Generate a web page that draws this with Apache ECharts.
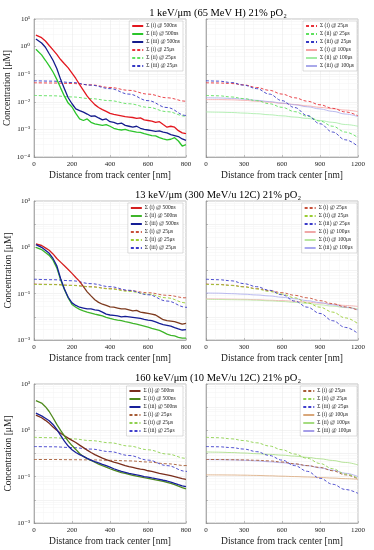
<!DOCTYPE html>
<html><head><meta charset="utf-8">
<script src="https://cdn.jsdelivr.net/npm/echarts@6/dist/echarts.min.js"></script>
<style>html,body{margin:0;padding:0;background:#fff}#c{width:374px;height:550px}</style>
</head><body><div id="c"></div>
<script>
// ---------- data ----------
const xSolid = [10,20,40,60,80,100,120,140,160,180,200,220,240,260,280,300,320,340,360,380,400,420,440,460,480,500,520,540,560,580,600,620,640,660,680,700,720,740,760,780,800];
const xSmooth = [0,100,200,300,400,500,600,700,800,900,1000,1100,1200];

const rowTitles = ['1 keV/μm (65 MeV H) 21% pO₂','13 keV/μm (300 MeV/u 12C) 21% pO₂','160 keV/μm (10 MeV/u 12C) 21% pO₂'];
const namesSolid = ['Σ (i) @ 500ns','Σ (ii) @ 500ns','Σ (iii) @ 500ns'];
const names25 = ['Σ (i) @ 25μs','Σ (ii) @ 25μs','Σ (iii) @ 25μs'];
const names100 = ['Σ (i) @ 100μs','Σ (ii) @ 100μs','Σ (iii) @ 100μs'];
const xLeftTicks = [0,200,400,600,800];
const xRightTicks = [0,300,600,900,1200];

// Row 1: 1 keV/um
const r1_i500 = [2.6,2.45,2.1,1.6,1.1,0.76,0.52,0.34,0.24,0.17,0.11,0.07,0.042,0.026,0.016,0.011,0.0079,0.0062,0.0052,0.0045,0.0038,0.0035,0.0033,0.0031,0.0029,0.0028,0.0027,0.0025,0.0026,0.0022,0.0021,0.002,0.0018,0.0019,0.0015,0.0012,0.0013,0.0012,0.0009,0.00075,0.0007];
const r1_ii500 = [0.8,0.72,0.5,0.32,0.2,0.12,0.065,0.032,0.016,0.009,0.0065,0.0038,0.0024,0.0021,0.0024,0.0018,0.0016,0.0015,0.0014,0.0015,0.0013,0.0011,0.001,0.00095,0.001,0.0009,0.00085,0.0008,0.00078,0.0007,0.00065,0.0006,0.00058,0.0005,0.00045,0.00042,0.00044,0.0005,0.00038,0.00025,0.00028];
const r1_iii500 = [1.9,1.75,1.35,0.95,0.55,0.32,0.16,0.065,0.03,0.014,0.0085,0.0055,0.0048,0.0042,0.0036,0.003,0.0031,0.0026,0.0022,0.0024,0.0019,0.0018,0.0016,0.0017,0.0014,0.0013,0.0012,0.0013,0.0011,0.001,0.00095,0.0009,0.00085,0.00088,0.0008,0.00075,0.00065,0.0006,0.00055,0.00045,0.0004];
const r1_i25 = [0.049,0.048,0.046,0.041,0.033,0.026,0.019,0.014,0.0105,0.0078,0.0058,0.0043,0.0031];
const r1_ii25 = [0.017,0.0165,0.015,0.013,0.011,0.0085,0.0063,0.0044,0.003,0.002,0.0013,0.0008,0.0005];
const r1_iii25 = [0.058,0.056,0.05,0.04,0.03,0.019,0.011,0.0062,0.0032,0.0016,0.0008,0.00042,0.00024];
const r1_i100 = [0.012,0.012,0.0118,0.0113,0.0105,0.0097,0.0088,0.008,0.0071,0.0063,0.0056,0.005,0.0044];
const r1_ii100 = [0.0043,0.0042,0.0041,0.0039,0.0037,0.0034,0.0031,0.0028,0.0025,0.0021,0.0018,0.0015,0.0013];
const r1_iii100 = [0.014,0.0138,0.0133,0.0125,0.0113,0.0102,0.009,0.0078,0.0066,0.0055,0.0045,0.0036,0.0029];

// Row 2: 13 keV/um
const r2_i500 = [14,13.5,12,9.5,7.5,5.2,3.3,2.3,1.6,1.1,0.75,0.5,0.34,0.2,0.12,0.08,0.055,0.042,0.035,0.031,0.027,0.026,0.024,0.022,0.022,0.02,0.018,0.019,0.016,0.015,0.014,0.013,0.012,0.0095,0.0075,0.0068,0.0065,0.0062,0.0055,0.0048,0.0052];
const r2_ii500 = [10,9.5,8,6,4.5,2.8,1.3,0.4,0.15,0.065,0.034,0.026,0.021,0.018,0.016,0.0145,0.013,0.012,0.011,0.0095,0.0085,0.0078,0.0072,0.0068,0.0062,0.0058,0.0052,0.0048,0.0044,0.004,0.0036,0.0032,0.0029,0.0026,0.0022,0.0018,0.0016,0.0015,0.0013,0.0012,0.0012];
const r2_iii500 = [13,12.5,10,7.5,5.5,3.3,1.6,0.45,0.16,0.07,0.04,0.031,0.026,0.024,0.022,0.022,0.02,0.019,0.016,0.013,0.012,0.0115,0.011,0.01,0.0105,0.01,0.0095,0.009,0.0085,0.0078,0.0072,0.0068,0.006,0.0052,0.0046,0.0043,0.004,0.0034,0.003,0.0027,0.0028];
const r2_i25 = [0.26,0.25,0.23,0.2,0.165,0.135,0.11,0.085,0.066,0.05,0.037,0.027,0.019];
const r2_ii25 = [0.25,0.245,0.225,0.195,0.16,0.125,0.095,0.066,0.04,0.026,0.016,0.009,0.005];
const r2_iii25 = [0.42,0.4,0.36,0.27,0.2,0.14,0.09,0.048,0.026,0.014,0.0068,0.0035,0.0019];
const r2_i100 = [0.06,0.059,0.058,0.057,0.055,0.052,0.05,0.047,0.043,0.039,0.035,0.031,0.028];
const r2_ii100 = [0.057,0.056,0.055,0.054,0.052,0.049,0.046,0.042,0.038,0.033,0.029,0.025,0.022];
const r2_iii100 = [0.107,0.105,0.1,0.095,0.088,0.08,0.07,0.06,0.05,0.041,0.033,0.026,0.02];

// Row 3: 160 keV/um
const r3_i500 = [45,42,35,27,20,14,10,7.5,5.8,4.6,3.7,3.0,2.3,1.8,1.4,1.1,0.9,0.75,0.63,0.55,0.48,0.42,0.38,0.34,0.3,0.27,0.25,0.23,0.21,0.2,0.18,0.17,0.155,0.14,0.13,0.12,0.11,0.1,0.09,0.082,0.077];
const r3_ii500 = [190,180,150,105,65,35,18,10,5.8,3.4,2.2,1.5,1.0,0.75,0.6,0.5,0.42,0.35,0.3,0.26,0.22,0.19,0.17,0.15,0.14,0.125,0.115,0.105,0.098,0.09,0.085,0.078,0.072,0.067,0.062,0.057,0.051,0.045,0.039,0.034,0.03];
const r3_iii500 = [55,52,42,33,26,18,11,6,3.4,2.1,1.45,1.1,0.9,0.75,0.62,0.52,0.45,0.39,0.34,0.3,0.26,0.22,0.19,0.17,0.155,0.14,0.13,0.12,0.11,0.1,0.095,0.088,0.082,0.076,0.07,0.065,0.058,0.051,0.045,0.04,0.037];
const r3_i25 = [0.55,0.55,0.54,0.53,0.51,0.48,0.43,0.36,0.3,0.25,0.18,0.12,0.08];
const r3_ii25 = [5.0,4.8,4.3,3.6,2.9,2.1,1.45,0.95,0.62,0.37,0.22,0.13,0.085];
const r3_iii25 = [2.0,1.95,1.8,1.55,1.2,0.82,0.52,0.3,0.17,0.085,0.047,0.028,0.019];
const r3_i100 = [0.12,0.119,0.118,0.116,0.113,0.109,0.105,0.101,0.097,0.092,0.087,0.082,0.077];
const r3_ii100 = [1.17,1.14,1.1,1.05,0.98,0.92,0.85,0.77,0.68,0.59,0.5,0.41,0.32];
const r3_iii100 = [0.55,0.54,0.53,0.51,0.48,0.44,0.4,0.35,0.3,0.24,0.19,0.14,0.1];

const rowsData = [
  {solid:[r1_i500,r1_ii500,r1_iii500], d25:[r1_i25,r1_ii25,r1_iii25], d100:[r1_i100,r1_ii100,r1_iii100], ymin:1e-4, ymax:10, labelStep:1},
  {solid:[r2_i500,r2_ii500,r2_iii500], d25:[r2_i25,r2_ii25,r2_iii25], d100:[r2_i100,r2_ii100,r2_iii100], ymin:1e-3, ymax:1e3, labelStep:2},
  {solid:[r3_i500,r3_ii500,r3_iii500], d25:[r3_i25,r3_ii25,r3_iii25], d100:[r3_i100,r3_ii100,r3_iii100], ymin:1e-3, ymax:1e3, labelStep:2}
];

// ---------- styles ----------
const palette = [
  {solid:['#e3171f','#2bc52b','#141c8c'], d25:['#e8323a','#5fe05f','#3538c4'], d100:['#f5a3a3','#a3eba3','#a9a9ea']},
  {solid:['#d42020','#3fb52a','#151e96'], d25:['#c8503a','#9acd32','#3a3ac8'], d100:['#f0a8a8','#b8e6a0','#a8a8ee']},
  {solid:['#7a2e1c','#4f8a1e','#18209a'], d25:['#a65b35','#8fd14f','#4040cc'], d100:['#d9a77a','#a5dc80','#a59ee8']}
];
const FONT = "'Liberation Serif','DejaVu Serif',serif";
const rowTop = [19, 201, 384];
const rowH = [138, 139, 139];
const colLeft = [34, 206];
const colW = 152;

const supMap = {'-':'⁻','0':'⁰','1':'¹','2':'²','3':'³','4':'⁴','5':'⁵','6':'⁶','7':'⁷','8':'⁸','9':'⁹'};
function pow10Label(step){
  return function(v){
    const e = Math.round(Math.log10(v));
    if (step > 1 && ((e % 2) + 2) % 2 === 0) return '';
    return '10' + String(e).split('').map(c=>supMap[c]).join('');
  };
}

const grids=[], xAxes=[], yAxes=[], series=[], legends=[], titles=[];
rowsData.forEach((rd, r) => {
  const sfx = ' '.repeat(r);
  titles.push({text: rowTitles[r], left: 213, top: rowTop[r]-16, textAlign:'center',
    textStyle:{fontFamily:FONT, fontSize:10.5, fontWeight:'normal', color:'#000'}});
  for (let c=0;c<2;c++){
    const gi = r*2+c;
    grids.push({left: colLeft[c], top: rowTop[r], width: colW, height: rowH[r], show:true, borderColor:'#999', borderWidth:0.6, backgroundColor:'#fff'});
    xAxes.push({type:'value', gridIndex:gi, min:0, max: c===0?800:1200, interval: c===0?200:300,
      name:'Distance from track center [nm]', nameLocation:'middle', nameGap:13,
      nameTextStyle:{fontFamily:FONT, fontSize:9.5, color:'#222'},
      axisLine:{show:true, lineStyle:{color:'#888', width:0.6}},
      axisTick:{show:true, inside:true, length:2, lineStyle:{color:'#888', width:0.5}},
      axisLabel:{fontFamily:FONT, fontSize:7, color:'#222', margin:4, formatter: v => String(v)},
      splitLine:{show:true, lineStyle:{color:'#e6e6e6', width:0.5}},
      minorTick:{show:false, splitNumber:4},
      minorSplitLine:{show:true, lineStyle:{color:'#f3f3f3', width:0.5}}
    });
    yAxes.push({type:'log', logBase:10, gridIndex:gi, min: rd.ymin, max: rd.ymax,
      name: c===0 ? 'Concentration [μM]' : '', nameLocation:'middle', nameGap:20,
      nameTextStyle:{fontFamily:FONT, fontSize:9.5, color:'#222'},
      axisLine:{show:true, lineStyle:{color:'#888', width:0.6}},
      axisTick:{show:true, inside:true, length:2, lineStyle:{color:'#888', width:0.5}},
      axisLabel:{show: c===0, fontFamily:FONT, fontSize:7, color:'#222', margin:4, formatter: pow10Label(rd.labelStep)},
      splitLine:{show:true, lineStyle:{color:'#e6e6e6', width:0.5}},
      minorTick:{show:false, splitNumber:5},
      minorSplitLine:{show:true, lineStyle:{color:'#f2f2f2', width:0.5}}
    });
    const pal = palette[r];
    const legendNames = [];
    const add = (name, xs, ys, color, type, width, smooth, z) => {
      series.push({type:'line', name: name + sfx, xAxisIndex:gi, yAxisIndex:gi,
        data: xs.map((x,i)=>[x, ys[i]]), symbol:'none', smooth: smooth, smoothMonotone:'x',
        lineStyle:{color, width, type}, itemStyle:{color: (typeof color === 'string') ? color : pal.solid[0]}, z, silent:true, animation:false});
      legendNames.push(name + sfx);
    };
    if (c===0){
      for (let k=0;k<3;k++){
        let col = pal.solid[k];
        if (r===1 && k===0){
          col = new echarts.graphic.LinearGradient(colLeft[0]+235*colW/800, 0, colLeft[0]+270*colW/800, 0,
            [{offset:0, color:'#d42020'},{offset:1, color:'#7d3a1e'}], true);
        }
        add(namesSolid[k], xSolid, rd.solid[k], col, 'solid', 1.3, false, 5);
      }
      for (let k=0;k<3;k++) add(names25[k], xSmooth, rd.d25[k], pal.d25[k], [3,2], 0.9, 0.4, 4);
    } else {
      for (let k=0;k<3;k++) add(names25[k], xSmooth, rd.d25[k], pal.d25[k], [3,2], 0.9, 0.4, 4);
      for (let k=0;k<3;k++) add(names100[k], xSmooth, rd.d100[k], pal.d100[k], 'solid', 0.8, 0.4, 3);
    }
    legends.push({data: legendNames, orient:'vertical', right: c===0 ? 191 : 17, top: rowTop[r]+2,
      itemWidth:11, itemHeight:5, itemGap:2, padding:[2,3,2,2], backgroundColor:'#fff',
      borderColor:'#bbb', borderWidth:0.5, selectedMode:false,
      itemStyle:{color:'transparent', borderColor:'transparent', borderWidth:0, opacity:0},
      textStyle:{fontFamily:FONT, fontSize:5.5, color:'#222', padding:[0,0,0,-2]}});
  }
});

const chart = echarts.init(document.getElementById('c'), null, {renderer:'canvas'});
chart.setOption({animation:false, backgroundColor:'#fff', title: titles, grid: grids, xAxis: xAxes, yAxis: yAxes, legend: legends, series});
</script>
</body></html>
